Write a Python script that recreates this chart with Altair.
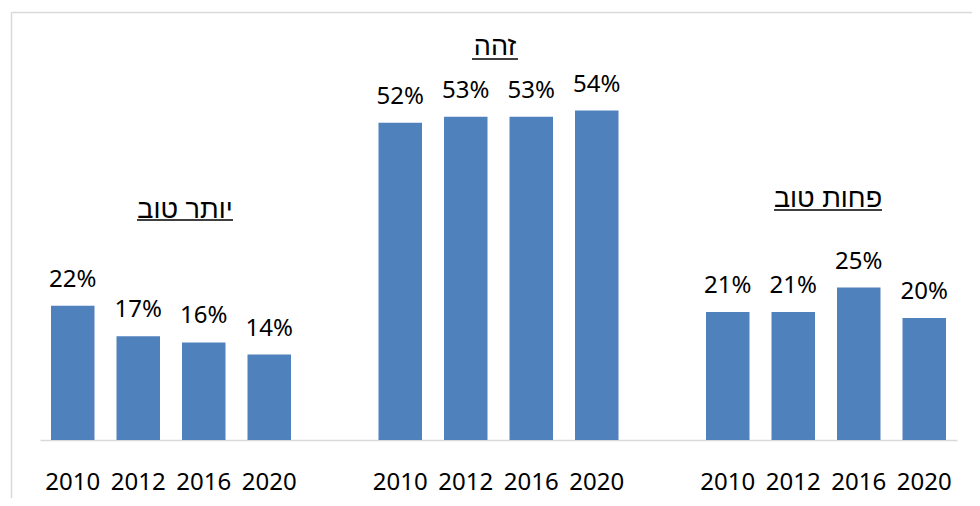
import altair as alt
import pandas as pd

# ---- data ----
groups = ["יותר טוב", "זהה", "פחות טוב"]
years = ["2010", "2012", "2016", "2020"]
better = [22, 17, 16, 14]
same = [52, 53, 53, 54]
worse = [21, 21, 25, 20]

series = [better, same, worse]
rows = []
domain = []
for gi, (g, vals) in enumerate(zip(groups, series)):
    for y, v in zip(years, vals):
        key = f"g{gi}|{y}"
        rows.append({"key": key, "group": g, "year": y, "v": v})
        domain.append(key)
    if gi < len(groups) - 1:
        domain.append(f"gap{gi}|")
df = pd.DataFrame(rows)

BLUE = "#4F81BD"
GRID = "#d9d9d9"
NUM_FONT = "Noto Sans"
HEB_FONT = "Liberation Sans"

W, H = 917, 366

xenc = alt.X(
    "key:N",
    scale=alt.Scale(domain=domain, paddingInner=0.336, paddingOuter=0.168),
    axis=alt.Axis(
        title=None,
        ticks=False,
        tickSize=0,
        labelAngle=0,
        labelPadding=49,
        labelBaseline="alphabetic",
        labelFont=NUM_FONT,
        labelFontSize=24,
        labelColor="#000000",
        domainColor=GRID,
        domainWidth=1.5,
        labelExpr="split(datum.value, '|')[1]",
    ),
)
yenc = alt.Y("v:Q", scale=alt.Scale(domain=[0, 60]), axis=None)

base = alt.Chart(df)
bars = base.mark_bar(color=BLUE).encode(x=xenc, y=yenc)
labels = base.transform_calculate(lab="format(datum.v, 'd') + '%'").mark_text(
    font=NUM_FONT, fontSize=24, color="#000000", baseline="alphabetic", dy=-19
).encode(x=xenc, y=yenc, text="lab:N")

# group titles (annotations) and their underlines
title_pos = [(145, 144, 97, 193, 146), (455, -19, 432, 478, -15), (788, 133, 734, 842, 136)]
layers = [bars, labels]
for g, (cx, by, ux1, ux2, uy) in zip(groups, title_pos):
    tdf = pd.DataFrame({"t": [g]})
    layers.append(
        alt.Chart(tdf).mark_text(
            font=HEB_FONT, fontSize=27, color="#000000", baseline="alphabetic", align="center"
        ).encode(x=alt.value(cx), y=alt.value(by), text="t:N")
    )
    layers.append(
        alt.Chart(tdf).mark_rule(color="#000000", strokeWidth=1.5).encode(
            x=alt.value(ux1), x2=alt.value(ux2), y=alt.value(uy)
        )
    )

# chart frame (left and top edges)
frame_df = pd.DataFrame({"a": [0]})
left_edge = alt.Chart(frame_df).mark_rule(color=GRID, strokeWidth=1.5).encode(
    x=alt.value(-28.5), y=alt.value(-61.5), y2=alt.value(424)
)
top_edge = alt.Chart(frame_df).mark_rule(color=GRID, strokeWidth=1.5).encode(
    x=alt.value(-28.5), x2=alt.value(932), y=alt.value(-61.5)
)
layers += [left_edge, top_edge]

chart = alt.layer(*layers).properties(
    width=W,
    height=H,
    autosize=alt.AutoSizeParams(type="none"),
    padding={"left": 32, "top": 66, "right": 15, "bottom": 58},
    background="white",
).configure_view(stroke=None)

chart.save("out.html", embed_options={"renderer": "svg", "actions": False})
